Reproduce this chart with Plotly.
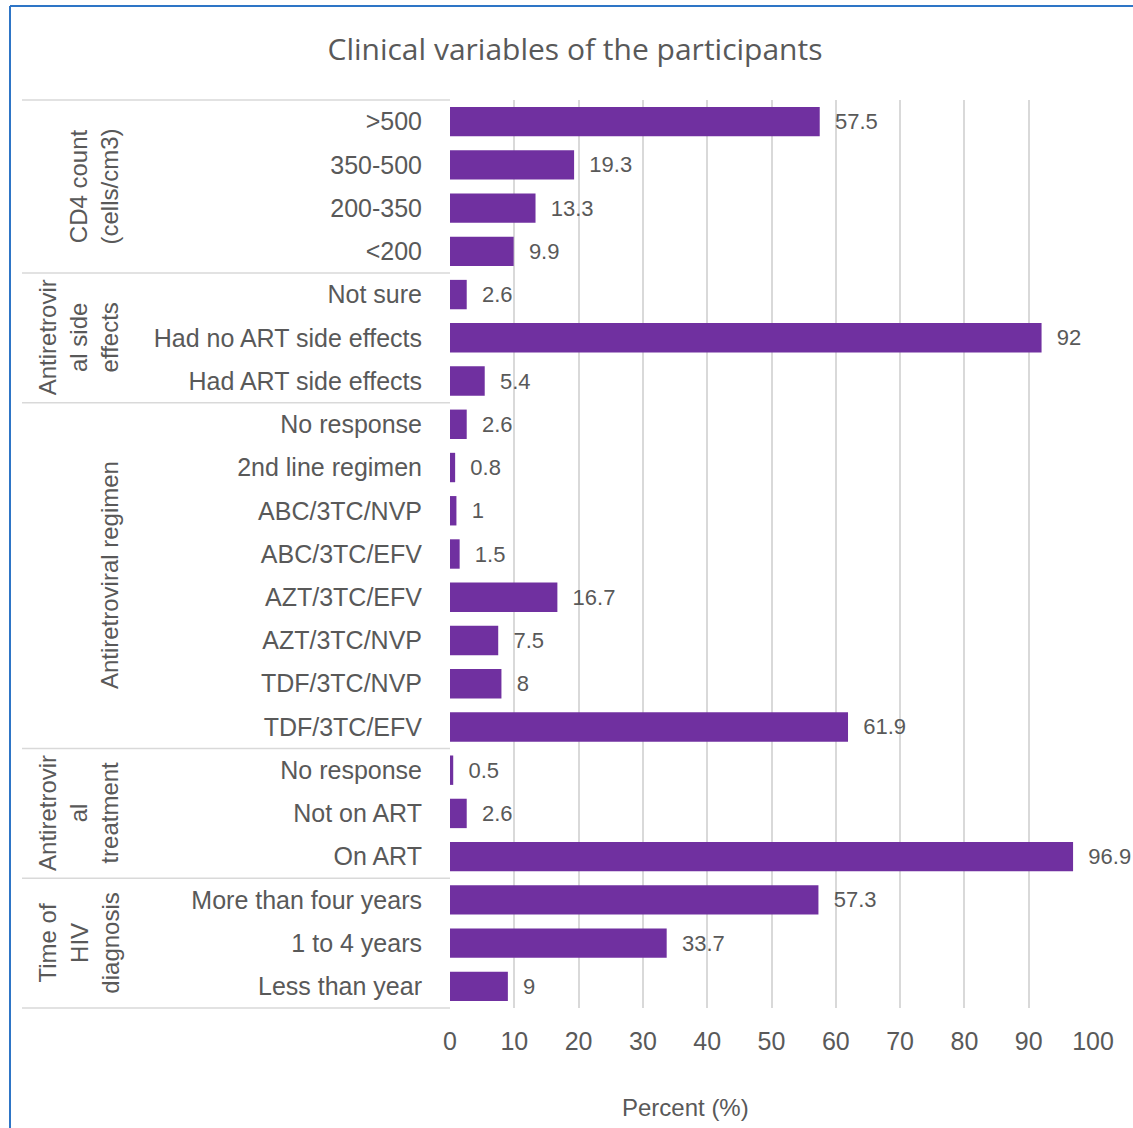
import plotly.graph_objects as go

# ---- data (top to bottom) ----
groups = [
    "CD4 count<br>(cells/cm3)",
    "Antiretrovir<br>al side<br>effects",
    "Antiretroviral regimen",
    "Antiretrovir<br>al<br>treatment",
    "Time of<br>HIV<br>diagnosis",
]
group_sizes = [4, 3, 8, 3, 3]
categories = [
    ">500", "350-500", "200-350", "<200",
    "Not sure", "Had no ART side effects", "Had ART side effects",
    "No response", "2nd line regimen", "ABC/3TC/NVP", "ABC/3TC/EFV",
    "AZT/3TC/EFV", "AZT/3TC/NVP", "TDF/3TC/NVP", "TDF/3TC/EFV",
    "No response", "Not on ART", "On ART",
    "More than four years", "1 to 4 years", "Less than year",
]
values = [
    57.5, 19.3, 13.3, 9.9,
    2.6, 92, 5.4,
    2.6, 0.8, 1, 1.5, 16.7, 7.5, 8, 61.9,
    0.5, 2.6, 96.9,
    57.3, 33.7, 9,
]
x_ticks = [0, 10, 20, 30, 40, 50, 60, 70, 80, 90, 100]

W, H = 1133, 1128
L, R, T, B = 450, 40, 100, 120
pw = W - L - R
ph = H - T - B
n = len(categories)

GRAY = "#595959"
NARROW = "Liberation Sans Narrow, Arial Narrow, Liberation Sans, sans-serif"
idx = list(range(n))

fig = go.Figure(go.Bar(
    x=values, y=idx, orientation="h",
    marker=dict(color="#7030A0", line=dict(width=0)),
    text=values, texttemplate="\u00a0\u00a0%{x}", textposition="outside",
    textfont=dict(family=NARROW, size=22, color=GRAY),
    cliponaxis=False, width=0.68,
))

def px_to_paper_x(px):
    return (px - L) / pw

def px_to_paper_y(py):
    return 1 - (py - T) / ph

shapes = []
annotations = []
# separators
start = 0
bounds = [0]
for s in group_sizes:
    start += s
    bounds.append(start)
for b in bounds:
    yp = 1 - b / n
    shapes.append(dict(type="line", xref="paper", yref="paper",
                       x0=px_to_paper_x(22), x1=0, y0=yp, y1=yp,
                       line=dict(color="#D9D9D9", width=1.5)))
for gi, g in enumerate(groups):
    y0 = 1 - bounds[gi] / n
    y1 = 1 - bounds[gi + 1] / n
    annotations.append(dict(text=g, xref="paper", yref="paper",
                            x=px_to_paper_x(125), y=(y0 + y1) / 2,
                            xanchor="right", yanchor="middle",
                            textangle=-90, showarrow=False, align="center",
                            font=dict(family=NARROW, size=24, color=GRAY)))
# axis title (offset left as in the original)
annotations.append(dict(text="Percent (%)", xref="paper", yref="paper",
                        x=px_to_paper_x(685), y=px_to_paper_y(1107),
                        xanchor="center", yanchor="middle", showarrow=False,
                        font=dict(family=NARROW, size=24, color=GRAY)))
# blue frame (left and top)
shapes.append(dict(type="line", xref="paper", yref="paper",
                   x0=px_to_paper_x(10), x1=px_to_paper_x(10),
                   y0=px_to_paper_y(6), y1=px_to_paper_y(H + 5),
                   line=dict(color="#2E75C6", width=2)))
shapes.append(dict(type="line", xref="paper", yref="paper",
                   x0=px_to_paper_x(10), x1=px_to_paper_x(W + 5),
                   y0=px_to_paper_y(6), y1=px_to_paper_y(6),
                   line=dict(color="#2E75C6", width=2)))

fig.update_layout(
    width=W, height=H,
    margin=dict(l=L, r=R, t=T, b=B),
    paper_bgcolor="white", plot_bgcolor="white",
    showlegend=False,
    title=dict(text="Clinical variables of the participants",
               x=575 / W, xanchor="center", y=1 - 49 / H, yanchor="middle",
               font=dict(family="Open Sans, sans-serif", size=30, color=GRAY)),
    xaxis=dict(range=[0, 100], tickvals=x_ticks, showgrid=True,
               gridcolor="#D9D9D9", gridwidth=1.5, zeroline=False,
               showline=False, ticks="", ticklabelstandoff=16,
               tickfont=dict(family=NARROW, size=25, color=GRAY)),
    yaxis=dict(range=[n - 0.5, -0.5], tickvals=idx, ticktext=categories,
               showgrid=False, zeroline=False, showline=False, ticks="",
               ticklabelstandoff=27,
               tickfont=dict(family=NARROW, size=25, color=GRAY)),
    shapes=shapes, annotations=annotations,
)

fig.write_html("out.html")
